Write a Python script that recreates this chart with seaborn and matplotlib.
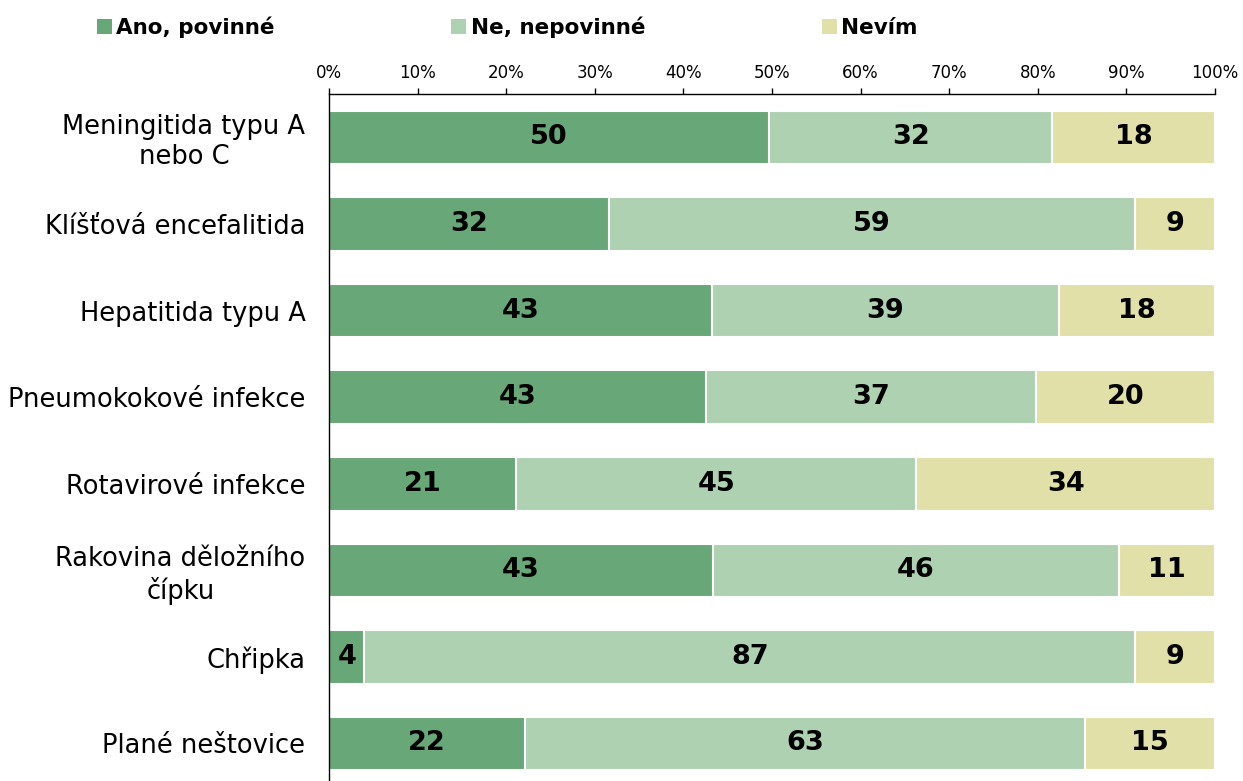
import matplotlib
matplotlib.use('Agg')
import matplotlib.pyplot as plt
from matplotlib.patches import Patch
import numpy as np
import pandas as pd
import seaborn as sns

# values (percent)
categories = ['Meningitida typu A\nnebo C', 'Klíšťová encefalitida', 'Hepatitida typu A',
              'Pneumokokové infekce', 'Rotavirové infekce', 'Rakovina děložního\nčípku',
              'Chřipka', 'Plané neštovice']
ano = [49.7, 31.6, 43.2, 42.6, 21.1, 43.3, 4.0, 22.1]
ne = [31.9, 59.4, 39.2, 37.2, 45.2, 45.9, 87.0, 63.2]
nevim = [18.4, 9.0, 17.6, 20.2, 33.7, 10.8, 9.0, 14.7]
series_names = ['Ano, povinné', 'Ne, nepovinné', 'Nevím']
colors = ['#68a777', '#aed1b1', '#e2e0a9']

sns.set_style('white')
plt.rcParams['font.family'] = ['DejaVu Sans']
plt.rcParams['text.color'] = 'black'
plt.rcParams['xtick.color'] = 'black'
plt.rcParams['ytick.color'] = 'black'

df = pd.DataFrame({'cat': categories, 'ano': ano, 'ne': ne, 'nevim': nevim})
df['c1'] = df['ano']
df['c2'] = df['ano'] + df['ne']
df['c3'] = df['c2'] + df['nevim']

fig = plt.figure(figsize=(12.43, 7.81), dpi=100)
ax = fig.add_axes([329 / 1243, -0.0074, (1215 - 329) / 1243, 0.8868])

# stacked bars by layering cumulative totals
for col, c in zip(['c3', 'c2', 'c1'], colors[::-1]):
    sns.barplot(data=df, x=col, y='cat', orient='h', color=c, width=0.62,
                edgecolor='white', linewidth=1.5, ax=ax, saturation=1)

# value labels
for i, row in df.iterrows():
    starts = [0, row['c1'], row['c2']]
    for s, v in zip(starts, [row['ano'], row['ne'], row['nevim']]):
        ax.text(s + v / 2, i, f'{v:.0f}', ha='center', va='center',
                fontsize=19.5, fontweight='bold', color='black')

ax.set_xlim(0, 100)
ax.set_ylim(len(categories) - 0.5, -0.5)
ax.xaxis.tick_top()
ax.set_xticks(np.arange(0, 101, 10))
ax.set_xticklabels([f'{v}%' for v in range(0, 101, 10)], fontsize=12)
ax.tick_params(axis='x', direction='out', length=4, width=1, pad=5, colors='black')
ax.set_xlabel('')
ax.set_ylabel('')

ax.set_yticks(range(len(categories)))
ax.set_yticklabels(categories, fontsize=18.5, ha='right', multialignment='center', color='black')
ax.tick_params(axis='y', which='major', length=0, pad=17)
ax.set_yticks(np.arange(-0.5, len(categories), 1), minor=True)
ax.tick_params(axis='y', which='minor', length=7, width=1, direction='out', color='black')

for side in ['right', 'bottom']:
    ax.spines[side].set_visible(False)
for side in ['left', 'top']:
    ax.spines[side].set_color('black')
    ax.spines[side].set_linewidth(1)
    ax.spines[side].set_zorder(5)

handles = [Patch(facecolor=c, edgecolor='none') for c in colors]
fig.legend(handles, series_names, loc='center left', bbox_to_anchor=(97 / 1243, 1 - 27 / 781),
           ncol=3, frameon=False, borderpad=0, borderaxespad=0,
           handlelength=0.7, handleheight=0.7, handletextpad=0.2, columnspacing=8.2,
           prop={'weight': 'bold', 'size': 15.5})

fig.savefig('out.png', dpi=100)
